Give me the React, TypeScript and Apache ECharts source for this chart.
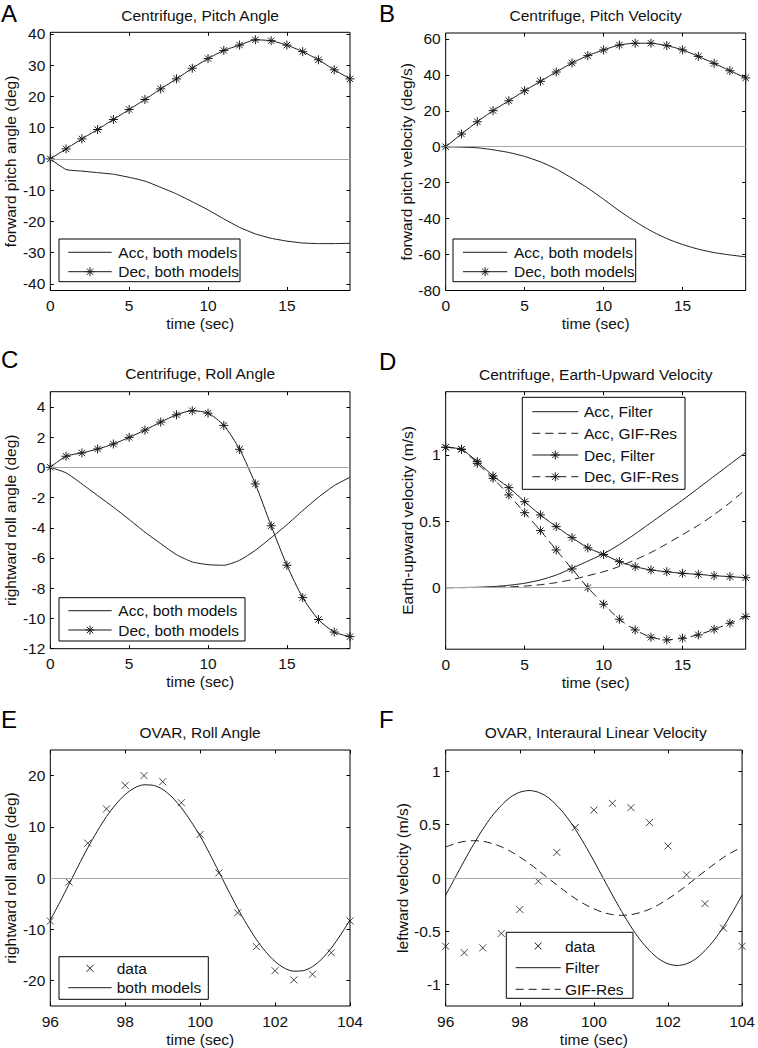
import React, { useEffect, useRef } from "react";
import * as echarts from "echarts";

// ---------- data ----------
const timeSec = [0, 1, 2, 3, 4, 5, 6, 7, 8, 9, 10, 11, 12, 13, 14, 15, 16, 17, 18, 19];

const accPitchAngle = [0, -3.4, -3.9, -4.4, -4.9, -5.9, -7.1, -9.1, -11.2, -13.7, -16.3, -19.2, -21.9, -24.0, -25.4, -26.3, -26.9, -27.1, -27.1, -27.0];
const decPitchAngle = [0, 3.2, 6.4, 9.4, 12.6, 15.8, 19.0, 22.4, 25.6, 29.0, 32.1, 34.7, 36.4, 38.1, 37.8, 36.4, 34.3, 31.7, 28.5, 25.6];

const accPitchVel = [0, -0.2, -0.6, -1.7, -3.2, -5.4, -8.4, -12.4, -17.5, -23.0, -29.2, -35.7, -41.6, -46.8, -51.1, -54.4, -57.0, -58.9, -60.2, -61.3];
const decPitchVel = [0, 7.1, 13.9, 20.1, 25.6, 31.2, 36.4, 41.6, 46.6, 50.7, 53.9, 56.6, 57.6, 57.6, 56.3, 53.9, 50.3, 46.4, 42.3, 38.3];

const accRollAngle = [0, -0.37, -1.1, -1.87, -2.64, -3.45, -4.29, -5.05, -5.78, -6.26, -6.44, -6.48, -6.15, -5.49, -4.66, -3.8, -2.86, -1.98, -1.21, -0.66];
const decRollAngle = [0, 0.73, 0.95, 1.21, 1.54, 1.98, 2.46, 2.99, 3.47, 3.74, 3.58, 2.77, 1.19, -1.1, -3.87, -6.48, -8.62, -10.07, -10.9, -11.2];

const accFilterUp = [0, 0.001, 0.003, 0.008, 0.018, 0.033, 0.058, 0.095, 0.146, 0.2, 0.255, 0.325, 0.405, 0.49, 0.575, 0.66, 0.75, 0.84, 0.93, 1.02];
const accGifUp = [0, 0, 0.001, 0.003, 0.006, 0.012, 0.022, 0.038, 0.06, 0.09, 0.12, 0.16, 0.21, 0.265, 0.33, 0.4, 0.47, 0.55, 0.64, 0.74];
const decFilterUp = [1.058, 1.043, 0.95, 0.842, 0.754, 0.648, 0.548, 0.46, 0.377, 0.3, 0.25, 0.196, 0.158, 0.133, 0.12, 0.108, 0.1, 0.09, 0.083, 0.075];
const decGifUp = [1.058, 1.043, 0.937, 0.824, 0.699, 0.565, 0.43, 0.284, 0.141, 0.0, -0.125, -0.238, -0.319, -0.374, -0.394, -0.381, -0.356, -0.314, -0.268, -0.218];

const ovarDataTime = [96, 96.5, 97, 97.5, 98, 98.5, 99, 99.5, 100, 100.5, 101, 101.5, 102, 102.5, 103, 103.5, 104];
const rollData = [-8.4, -0.8, 6.8, 13.5, 18.1, 20.0, 18.8, 14.7, 8.5, 1.0, -6.8, -13.4, -18.1, -19.9, -18.8, -14.6, -8.4];
const velData = [-0.64, -0.7, -0.655, -0.52, -0.295, -0.03, 0.24, 0.475, 0.637, 0.7, 0.66, 0.52, 0.3, 0.03, -0.24, -0.47, -0.64];

const ovarModelTime = [96, 96.25, 96.5, 96.75, 97, 97.25, 97.5, 97.75, 98, 98.25, 98.5, 98.75, 99, 99.25, 99.5, 99.75, 100, 100.25, 100.5, 100.75, 101, 101.25, 101.5, 101.75, 102, 102.25, 102.5, 102.75, 103, 103.25, 103.5, 103.75, 104];
const rollModel = [-8.2, -4.8, -1.2, 2.4, 5.9, 9.1, 12.0, 14.4, 16.3, 17.6, 18.2, 18.1, 17.3, 15.8, 13.7, 11.1, 8.2, 4.8, 1.2, -2.4, -5.9, -9.1, -12.0, -14.4, -16.3, -17.6, -18.2, -18.1, -17.3, -15.8, -13.7, -11.1, -8.2];
const filterVel = [-0.16, 0, 0.16, 0.314, 0.456, 0.58, 0.68, 0.758, 0.804, 0.82, 0.804, 0.758, 0.68, 0.58, 0.456, 0.314, 0.16, 0, -0.16, -0.314, -0.456, -0.58, -0.68, -0.758, -0.804, -0.82, -0.804, -0.758, -0.68, -0.58, -0.456, -0.314, -0.16];
const gifVel = [0.29, 0.322, 0.343, 0.35, 0.344, 0.324, 0.293, 0.25, 0.197, 0.137, 0.071, 0.003, -0.065, -0.131, -0.193, -0.246, -0.289, -0.323, -0.343, -0.35, -0.344, -0.324, -0.293, -0.25, -0.197, -0.137, -0.071, -0.003, 0.065, 0.131, 0.193, 0.246, 0.289];

const centrifugeTicks = [0, 5, 10, 15];
const ovarTicks = [96, 98, 100, 102, 104];
const ticksA = [-40, -30, -20, -10, 0, 10, 20, 30, 40];
const ticksB = [-80, -60, -40, -20, 0, 20, 40, 60];
const ticksC = [-12, -10, -8, -6, -4, -2, 0, 2, 4];
const ticksD = [0, 0.5, 1];
const ticksE = [-20, -10, 0, 10, 20];
const ticksF = [-1, -0.5, 0, 0.5, 1];

// ---------- style ----------
const FONT = '"Liberation Sans", Arial, Helvetica, sans-serif';
const FS = 15.5;
const INK = "#1a1a1a";
const STAR = "path://M5 0L5 10M0 5L10 5M1.46 1.46L8.54 8.54M1.46 8.54L8.54 1.46";
const CROSS = "path://M0 0L10 10M0 10L10 0";
const DASH = [8, 5];

const pairs = (xs: number[], ys: number[]) => xs.map((x, i) => [x, ys[i]]);

type Panel = {
  letter: string; title: string; yName: string;
  left: number; top: number; width: number; height: number;
  xMin: number; xMax: number; xTicks: number[];
  yMin: number; yMax: number; yTicks: number[];
  letterY: number; titleY: number; yNameGap: number;
};

const panels: Panel[] = [
  { letter: "A", title: "Centrifuge, Pitch Angle", yName: "forward pitch angle (deg)", left: 50.3, top: 32.3, width: 299.7, height: 258.2, xMin: 0, xMax: 19, xTicks: centrifugeTicks, yMin: -42.1, yMax: 40.5, yTicks: ticksA, letterY: 13, titleY: 15, yNameGap: 31 },
  { letter: "B", title: "Centrifuge, Pitch Velocity", yName: "forward pitch velocity (deg/s)", left: 445.7, top: 33, width: 300, height: 257.5, xMin: 0, xMax: 19, xTicks: centrifugeTicks, yMin: -80, yMax: 63.3, yTicks: ticksB, letterY: 13, titleY: 15, yNameGap: 31 },
  { letter: "C", title: "Centrifuge, Roll Angle", yName: "rightward roll angle (deg)", left: 50.3, top: 391.7, width: 299.7, height: 257, xMin: 0, xMax: 19, xTicks: centrifugeTicks, yMin: -12, yMax: 5, yTicks: ticksC, letterY: 359, titleY: 373.5, yNameGap: 32 },
  { letter: "D", title: "Centrifuge, Earth-Upward Velocity", yName: "Earth-upward velocity (m/s)", left: 445.7, top: 391.7, width: 300, height: 257.5, xMin: 0, xMax: 19, xTicks: centrifugeTicks, yMin: -0.464, yMax: 1.477, yTicks: ticksD, letterY: 361, titleY: 374.5, yNameGap: 30 },
  { letter: "E", title: "OVAR, Roll Angle", yName: "rightward roll angle (deg)", left: 50.3, top: 750, width: 299.7, height: 256.7, xMin: 96, xMax: 104, xTicks: ovarTicks, yMin: -25, yMax: 25, yTicks: ticksE, letterY: 719, titleY: 732.7, yNameGap: 32 },
  { letter: "F", title: "OVAR, Interaural Linear Velocity", yName: "leftward velocity (m/s)", left: 445.7, top: 750, width: 300, height: 256.7, xMin: 96, xMax: 104, xTicks: ovarTicks, yMin: -1.2, yMax: 1.2, yTicks: ticksF, letterY: 719, titleY: 732.7, yNameGap: 30 },
];

const zeroLine = {
  silent: true,
  symbol: ["none", "none"],
  label: { show: false },
  lineStyle: { color: "#a8a8a8", width: 1, type: "solid" },
  emphasis: { disabled: true },
  data: [{ yAxis: 0 }],
};

function lineSeries(panelIdx: number, name: string, data: number[][], opts: { dashed?: boolean; star?: boolean; zero?: boolean; smooth?: number }) {
  const s: any = {
    type: "line",
    name,
    xAxisIndex: panelIdx * 2,
    yAxisIndex: panelIdx * 2,
    data,
    smooth: opts.smooth ?? 0,
    symbol: opts.star ? STAR : "none",
    symbolSize: 9,
    showSymbol: !!opts.star,
    showAllSymbol: true,
    lineStyle: { color: INK, width: 1, type: opts.dashed ? DASH : "solid" },
    itemStyle: { color: "none", borderColor: INK, borderWidth: 1 },
    emphasis: { disabled: true },
    z: 3,
  };
  if (opts.zero) s.markLine = zeroLine;
  return s;
}

function crossSeries(panelIdx: number, name: string, data: number[][]) {
  return {
    type: "scatter",
    name,
    xAxisIndex: panelIdx * 2,
    yAxisIndex: panelIdx * 2,
    data,
    symbol: CROSS,
    symbolSize: 7,
    itemStyle: { color: "none", borderColor: INK, borderWidth: 1 },
    emphasis: { disabled: true },
    z: 4,
  };
}

// ---------- legend drawing ----------
type LegendRow = { label: string; line: "solid" | "dashed" | "none"; marker: "star" | "cross" | "none" };

function starEls(cx: number, cy: number, r: number) {
  const d = r * 0.707;
  const segs = [[cx, cy - r, cx, cy + r], [cx - r, cy, cx + r, cy], [cx - d, cy - d, cx + d, cy + d], [cx - d, cy + d, cx + d, cy - d]];
  return segs.map((s) => ({ type: "line", z: 101, shape: { x1: s[0], y1: s[1], x2: s[2], y2: s[3] }, style: { stroke: INK, lineWidth: 1 } }));
}
function crossEls(cx: number, cy: number, r: number) {
  const segs = [[cx - r, cy - r, cx + r, cy + r], [cx - r, cy + r, cx + r, cy - r]];
  return segs.map((s) => ({ type: "line", z: 101, shape: { x1: s[0], y1: s[1], x2: s[2], y2: s[3] }, style: { stroke: INK, lineWidth: 1 } }));
}

function legendEls(box: [number, number, number, number], rows: LegendRow[], rowYs: number[], sx0: number, sx1: number, tx: number) {
  const els: any[] = [
    { type: "rect", z: 100, shape: { x: box[0], y: box[1], width: box[2] - box[0], height: box[3] - box[1] }, style: { fill: "#fff", stroke: "#000", lineWidth: 1 } },
  ];
  rows.forEach((r, i) => {
    const y = rowYs[i];
    if (r.line !== "none") {
      els.push({ type: "line", z: 101, shape: { x1: sx0, y1: y, x2: sx1, y2: y }, style: { stroke: INK, lineWidth: 1, lineDash: r.line === "dashed" ? DASH : null } });
    }
    const cx = (sx0 + sx1) / 2;
    if (r.marker === "star") els.push(...starEls(cx, y, 4.5));
    if (r.marker === "cross") els.push(...crossEls(cx, y, 3.5));
    els.push({ type: "text", z: 101, style: { text: r.label, x: tx, y, fontSize: FS, fontFamily: FONT, fill: "#111", align: "left", verticalAlign: "middle", textAlign: "left", textVerticalAlign: "middle" } });
  });
  return els;
}

export default function App() {
  const ref = useRef<HTMLDivElement>(null);

  useEffect(() => {
    if (!ref.current) return;
    const chart = echarts.init(ref.current, undefined, { renderer: "svg" });

    const grid = panels.map((p) => ({ left: p.left, top: p.top, width: p.width, height: p.height, show: true, borderColor: "#000", borderWidth: 1, backgroundColor: "#fff", containLabel: false }));

    const xAxis: any[] = [];
    const yAxis: any[] = [];
    panels.forEach((p, i) => {
      const tick = { show: true, inside: true, length: 3.5, lineStyle: { color: "#000", width: 1 }, customValues: p.xTicks };
      xAxis.push({
        type: "value", gridIndex: i, position: "bottom", min: p.xMin, max: p.xMax,
        axisLine: { show: false, onZero: false }, splitLine: { show: false },
        axisTick: tick,
        axisLabel: { show: true, customValues: p.xTicks, margin: 7, fontSize: FS, fontFamily: FONT, color: "#111", showMinLabel: true, showMaxLabel: true },
        name: "time (sec)", nameLocation: "middle", nameGap: 25,
        nameTextStyle: { fontSize: FS, fontFamily: FONT, color: "#111" },
      });
      xAxis.push({
        type: "value", gridIndex: i, position: "top", min: p.xMin, max: p.xMax,
        axisLine: { show: false, onZero: false }, splitLine: { show: false },
        axisTick: tick, axisLabel: { show: false },
      });
      const ytick = { show: true, inside: true, length: 3.5, lineStyle: { color: "#000", width: 1 }, customValues: p.yTicks };
      yAxis.push({
        type: "value", gridIndex: i, position: "left", min: p.yMin, max: p.yMax,
        axisLine: { show: false, onZero: false }, splitLine: { show: false },
        axisTick: ytick,
        axisLabel: { show: true, customValues: p.yTicks, margin: 5, fontSize: FS, fontFamily: FONT, color: "#111", showMinLabel: true, showMaxLabel: true },
        name: p.yName, nameLocation: "middle", nameGap: p.yNameGap, nameRotate: 90,
        nameTextStyle: { fontSize: FS, fontFamily: FONT, color: "#111" },
      });
      yAxis.push({
        type: "value", gridIndex: i, position: "right", min: p.yMin, max: p.yMax,
        axisLine: { show: false, onZero: false }, splitLine: { show: false },
        axisTick: ytick, axisLabel: { show: false },
      });
    });

    const series: any[] = [
      lineSeries(0, "Acc, both models", pairs(timeSec, accPitchAngle), { zero: true, smooth: 0.15 }),
      lineSeries(0, "Dec, both models", pairs(timeSec, decPitchAngle), { star: true, smooth: 0.2 }),
      lineSeries(1, "Acc, both models", pairs(timeSec, accPitchVel), { zero: true, smooth: 0.2 }),
      lineSeries(1, "Dec, both models", pairs(timeSec, decPitchVel), { star: true, smooth: 0.2 }),
      lineSeries(2, "Acc, both models", pairs(timeSec, accRollAngle), { zero: true, smooth: 0.2 }),
      lineSeries(2, "Dec, both models", pairs(timeSec, decRollAngle), { star: true, smooth: 0.25 }),
      lineSeries(3, "Acc, Filter", pairs(timeSec, accFilterUp), { zero: true, smooth: 0.2 }),
      lineSeries(3, "Acc, GIF-Res", pairs(timeSec, accGifUp), { dashed: true, smooth: 0.2 }),
      lineSeries(3, "Dec, Filter", pairs(timeSec, decFilterUp), { star: true, smooth: 0.2 }),
      lineSeries(3, "Dec, GIF-Res", pairs(timeSec, decGifUp), { star: true, dashed: true, smooth: 0.2 }),
      crossSeries(4, "data", pairs(ovarDataTime, rollData)),
      lineSeries(4, "both models", pairs(ovarModelTime, rollModel), { zero: true, smooth: 0.3 }),
      crossSeries(5, "data", pairs(ovarDataTime, velData)),
      lineSeries(5, "Filter", pairs(ovarModelTime, filterVel), { zero: true, smooth: 0.3 }),
      lineSeries(5, "GIF-Res", pairs(ovarModelTime, gifVel), { dashed: true, smooth: 0.3 }),
    ];

    const graphics: any[] = [];
    panels.forEach((p) => {
      const left = p.left < 200 ? 1 : 379;
      graphics.push({ type: "text", z: 102, style: { text: p.letter, x: left, y: p.letterY, fontSize: 24, fontFamily: FONT, fill: "#000", align: "left", verticalAlign: "middle", textAlign: "left", textVerticalAlign: "middle" } });
      graphics.push({ type: "text", z: 102, style: { text: p.title, x: p.left + p.width / 2, y: p.titleY, fontSize: FS, fontFamily: FONT, fill: "#111", align: "center", verticalAlign: "middle", textAlign: "center", textVerticalAlign: "middle" } });
    });

    const both: LegendRow[] = [
      { label: "Acc, both models", line: "solid", marker: "none" },
      { label: "Dec, both models", line: "solid", marker: "star" },
    ];
    graphics.push(...legendEls([59, 239, 240, 281.7], both, [252.3, 271.7], 68.3, 111.7, 118.3));
    graphics.push(...legendEls([453, 239, 635.7, 281.7], both, [252.3, 271.7], 463, 507.3, 514));
    graphics.push(...legendEls([59, 597.7, 245, 641], both, [610.7, 630], 68.3, 111.7, 118.3));
    graphics.push(...legendEls([522.3, 397.3, 685, 489.3], [
      { label: "Acc, Filter", line: "solid", marker: "none" },
      { label: "Acc, GIF-Res", line: "dashed", marker: "none" },
      { label: "Dec, Filter", line: "solid", marker: "star" },
      { label: "Dec, GIF-Res", line: "dashed", marker: "star" },
    ], [411.7, 433.3, 455, 476.7], 532.3, 578.3, 584));
    graphics.push(...legendEls([59, 956.7, 208.3, 999.3], [
      { label: "data", line: "none", marker: "cross" },
      { label: "both models", line: "solid", marker: "none" },
    ], [968.3, 987.7], 68.3, 111.7, 116.7));
    graphics.push(...legendEls([506.3, 932.3, 633, 998.3], [
      { label: "data", line: "none", marker: "cross" },
      { label: "Filter", line: "solid", marker: "none" },
      { label: "GIF-Res", line: "dashed", marker: "none" },
    ], [946, 967.7, 989.3], 515.7, 560.7, 565));

    chart.setOption({
      animation: false,
      backgroundColor: "#fff",
      textStyle: { fontFamily: FONT },
      grid, xAxis, yAxis, series,
      graphic: { elements: graphics },
    });

    return () => chart.dispose();
  }, []);

  return <div ref={ref} style={{ position: "absolute", left: 0, top: 0, width: 758, height: 1048 }} />;
}
